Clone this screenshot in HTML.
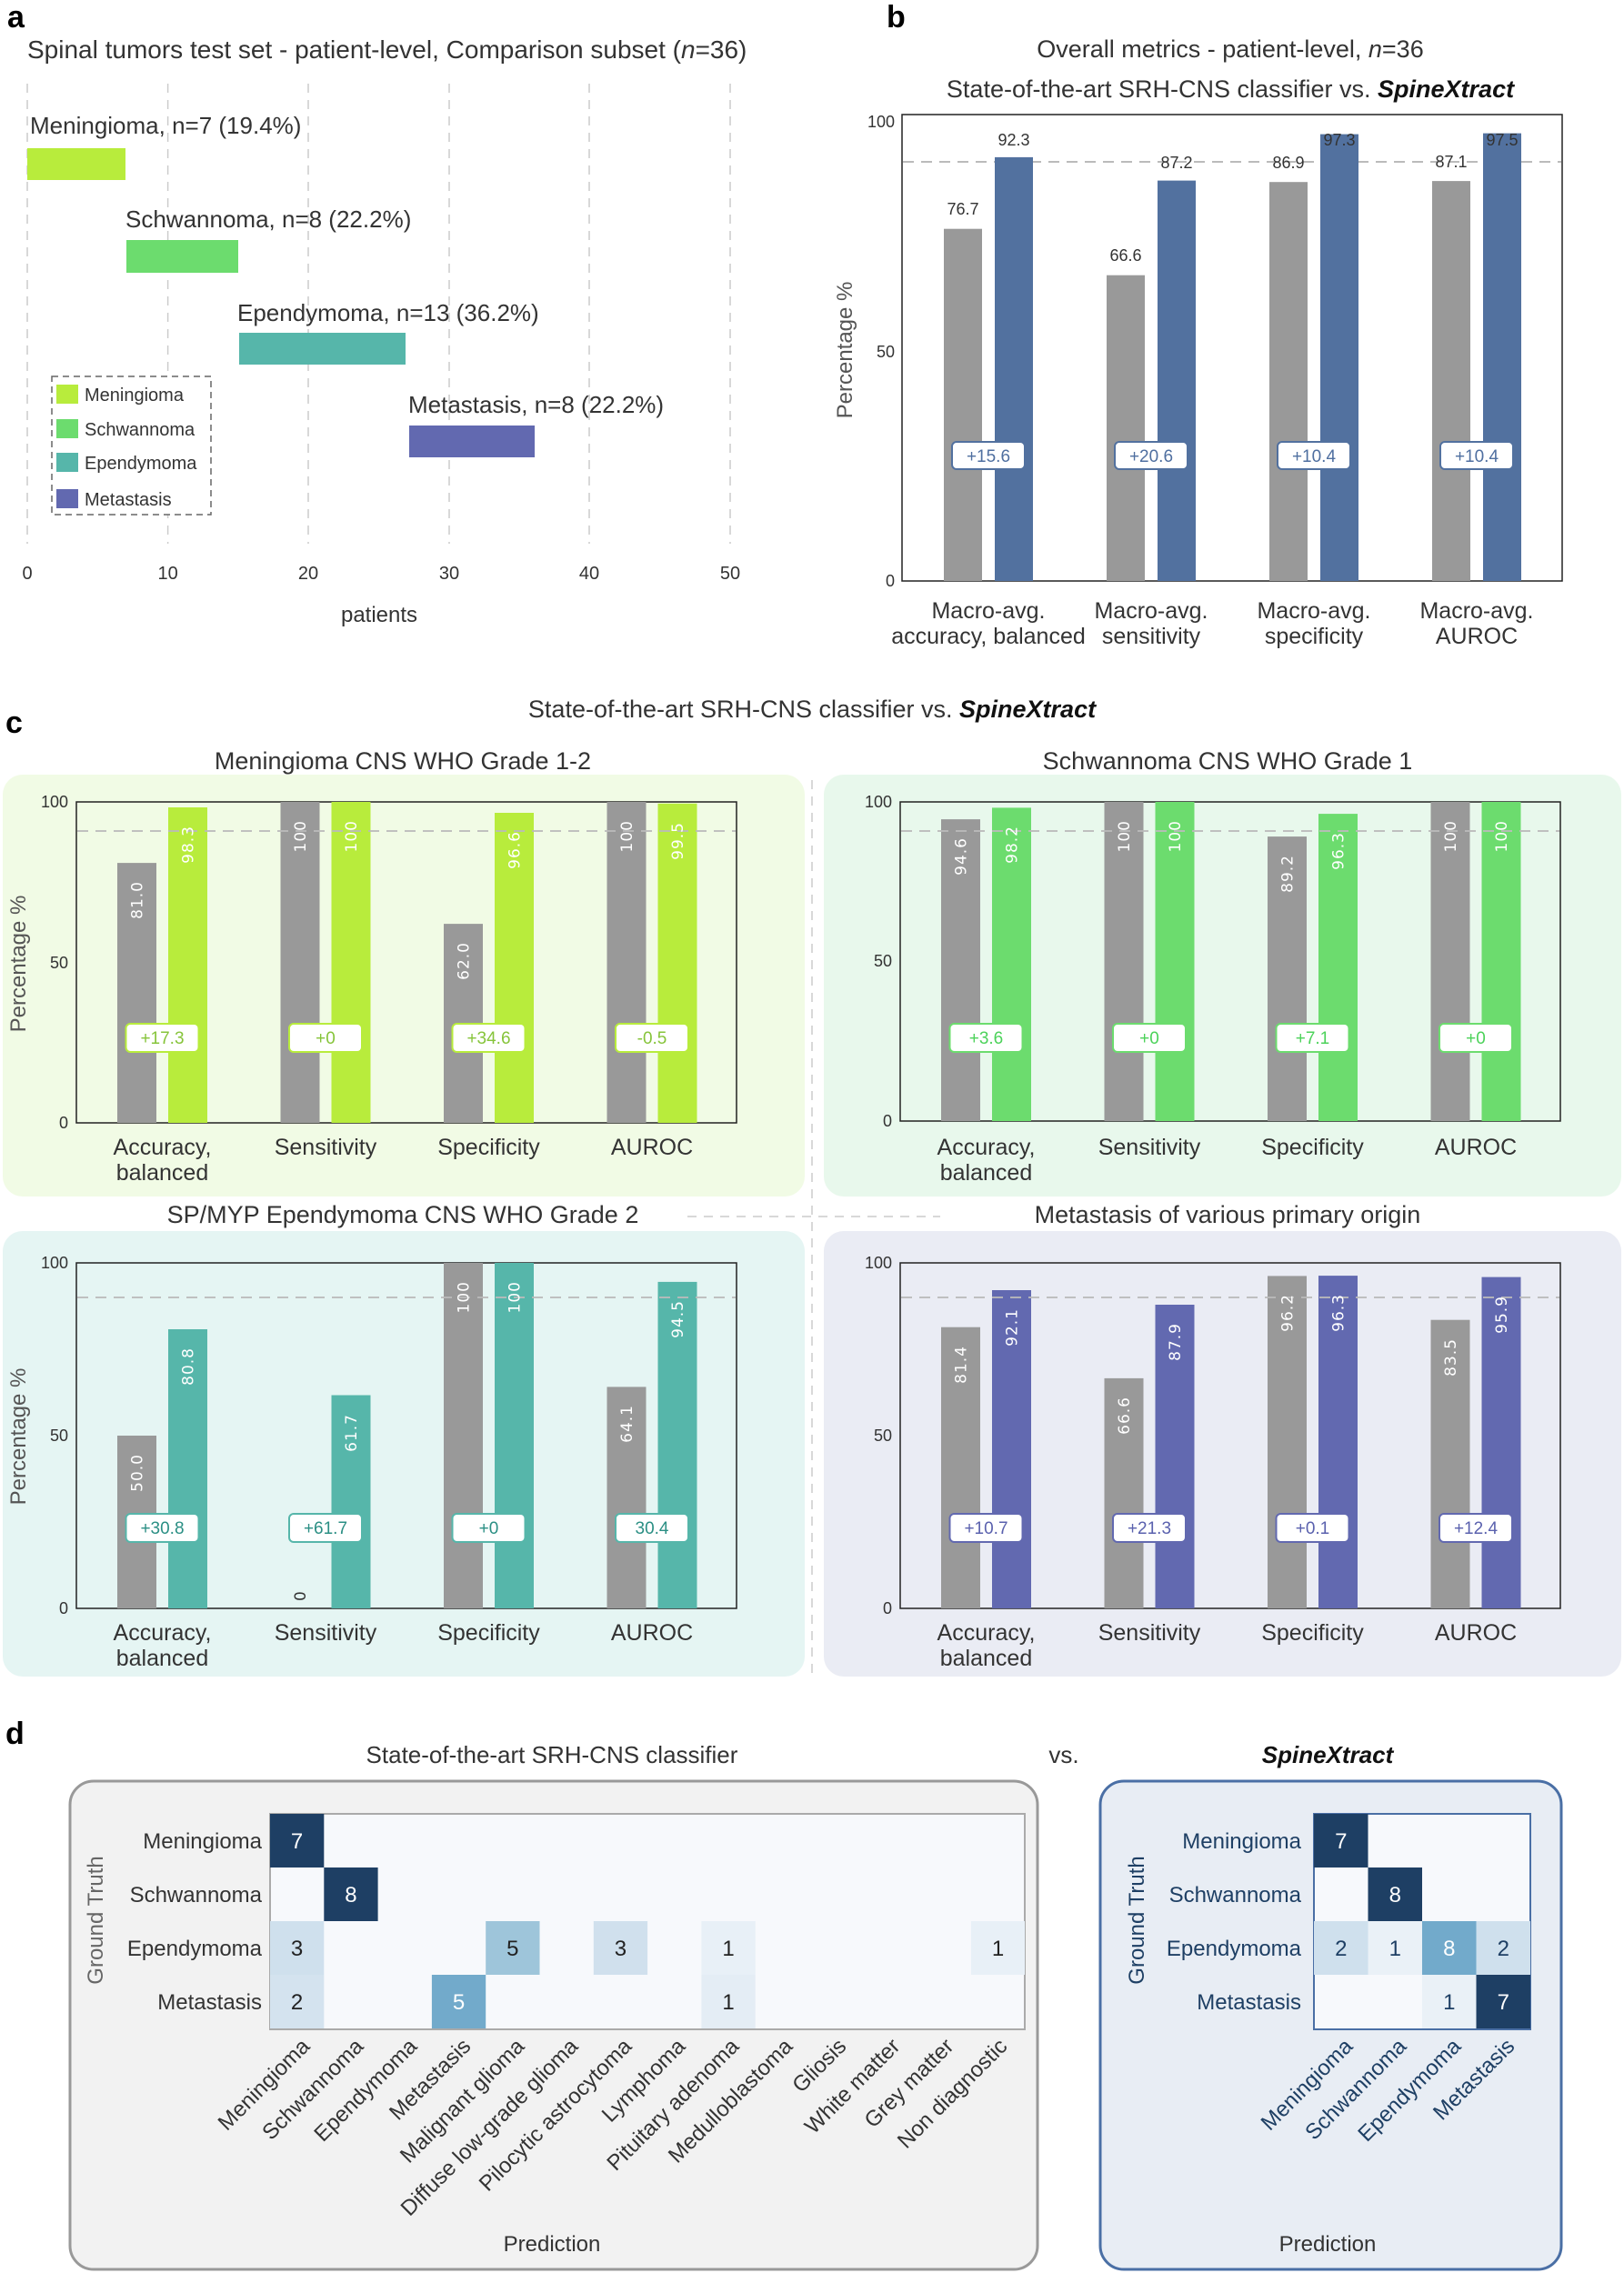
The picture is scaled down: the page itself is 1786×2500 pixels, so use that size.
<!DOCTYPE html>
<html><head><meta charset="utf-8"><style>
html,body{margin:0;padding:0;background:#fff}
svg{display:block;font-family:"Liberation Sans",sans-serif}
.t{fill:#333}
.tk{font-size:18px;fill:#333}
.vl{font-family:"DejaVu Sans",sans-serif;font-size:17px;fill:#fff;letter-spacing:1px}
.xl{font-size:25px;fill:#333;text-anchor:middle}
.bd{fill:#fff;stroke-width:2}
.bt{font-size:19px;text-anchor:middle}
.hm{font-size:24px;text-anchor:middle}
.cl{font-size:24px;fill:#333;text-anchor:end}
</style></head><body>
<svg width="1786" height="2500" viewBox="0 0 1786 2500" xmlns="http://www.w3.org/2000/svg">
<!-- Panel a -->
<text x="8" y="30" font-size="34" font-weight="bold" fill="#000">a</text>
<text x="30" y="64" font-size="28" class="t">Spinal tumors test set - patient-level, Comparison subset (<tspan font-style="italic">n</tspan>=36)</text>
<g stroke="#ccc" stroke-width="1.5" stroke-dasharray="10,8">
<line x1="30" y1="92" x2="30" y2="598"/><line x1="184.6" y1="92" x2="184.6" y2="598"/><line x1="339" y1="92" x2="339" y2="598"/><line x1="494" y1="92" x2="494" y2="598"/><line x1="648" y1="92" x2="648" y2="598"/><line x1="803" y1="92" x2="803" y2="598"/>
</g>
<rect x="30" y="163" width="108" height="35" fill="#b8ec3c"/>
<rect x="139" y="264" width="123" height="36" fill="#6cdc6e"/>
<rect x="263" y="366" width="183" height="35" fill="#56b6aa"/>
<rect x="450" y="468" width="138" height="35" fill="#6269b0"/>
<g font-size="26" class="t">
<text x="33" y="147">Meningioma, n=7 (19.4%)</text>
<text x="138" y="250">Schwannoma, n=8 (22.2%)</text>
<text x="261" y="353">Ependymoma, n=13 (36.2%)</text>
<text x="449" y="454">Metastasis, n=8 (22.2%)</text>
</g>
<rect x="57" y="414" width="175" height="152" fill="#fff" stroke="#666" stroke-width="1.5" stroke-dasharray="7,5"/>
<rect x="62" y="423" width="24" height="21" fill="#b8ec3c"/><rect x="62" y="461" width="24" height="21" fill="#6cdc6e"/><rect x="62" y="498" width="24" height="21" fill="#56b6aa"/><rect x="62" y="538" width="24" height="21" fill="#6269b0"/>
<g font-size="20" class="t"><text x="93" y="441">Meningioma</text><text x="93" y="479">Schwannoma</text><text x="93" y="516">Ependymoma</text><text x="93" y="556">Metastasis</text></g>
<g font-size="20" class="t" text-anchor="middle"><text x="30" y="637">0</text><text x="184.6" y="637">10</text><text x="339" y="637">20</text><text x="494" y="637">30</text><text x="648" y="637">40</text><text x="803" y="637">50</text></g>
<text x="417" y="684" font-size="24" class="t" text-anchor="middle">patients</text>

<!-- Panel b -->
<text x="975" y="30" font-size="34" font-weight="bold" fill="#000">b</text>
<text x="1353" y="63" font-size="27" class="t" text-anchor="middle">Overall metrics - patient-level, <tspan font-style="italic">n</tspan>=36</text>
<text x="1353" y="107" font-size="27" class="t" text-anchor="middle">State-of-the-art SRH-CNS classifier vs. <tspan font-style="italic" font-weight="bold" fill="#111">SpineXtract</tspan></text>
<rect x="992" y="126" width="726" height="513" fill="#fff" stroke="#222" stroke-width="1.5"/>
<line x1="993" y1="178" x2="1717" y2="178" stroke="#bbb" stroke-width="2" stroke-dasharray="12,8"/>
<g fill="#999"><rect x="1038" y="251.7" width="42" height="387.3"/><rect x="1217" y="302.7" width="42" height="336.3"/><rect x="1396" y="200.2" width="42" height="438.8"/><rect x="1575" y="199.1" width="42" height="439.9"/></g>
<g fill="#52719f"><rect x="1094" y="172.9" width="42" height="466.1"/><rect x="1273" y="198.6" width="42" height="440.4"/><rect x="1452" y="147.6" width="42" height="491.4"/><rect x="1631" y="146.6" width="42" height="492.4"/></g>
<g font-size="18" class="t" text-anchor="middle">
<text x="1059" y="236">76.7</text><text x="1115" y="160">92.3</text>
<text x="1238" y="287">66.6</text><text x="1294" y="185">87.2</text>
<text x="1417" y="185">86.9</text><text x="1473" y="160">97.3</text>
<text x="1596" y="184">87.1</text><text x="1652" y="160">97.5</text></g>
<g stroke="#52719f"><rect class="bd" x="1047" y="486" width="80" height="30" rx="5"/><rect class="bd" x="1226" y="486" width="80" height="30" rx="5"/><rect class="bd" x="1405" y="486" width="80" height="30" rx="5"/><rect class="bd" x="1584" y="486" width="80" height="30" rx="5"/></g>
<g class="bt" fill="#4f6fa0"><text x="1087" y="508">+15.6</text><text x="1266" y="508">+20.6</text><text x="1445" y="508">+10.4</text><text x="1624" y="508">+10.4</text></g>
<g class="tk" text-anchor="end"><text x="984" y="140">100</text><text x="984" y="393">50</text><text x="984" y="645">0</text></g>
<text transform="translate(937,385) rotate(-90)" font-size="24" fill="#555" text-anchor="middle">Percentage %</text>
<g class="xl"><text x="1087" y="680">Macro-avg.</text><text x="1087" y="708">accuracy, balanced</text><text x="1266" y="680">Macro-avg.</text><text x="1266" y="708">sensitivity</text><text x="1445" y="680">Macro-avg.</text><text x="1445" y="708">specificity</text><text x="1624" y="680">Macro-avg.</text><text x="1624" y="708">AUROC</text></g>

<!-- Panel c -->
<text x="6" y="806" font-size="34" font-weight="bold" fill="#000">c</text>
<text x="893" y="789" font-size="27" class="t" text-anchor="middle">State-of-the-art SRH-CNS classifier vs. <tspan font-style="italic" font-weight="bold" fill="#111">SpineXtract</tspan></text>
<rect x="3" y="852" width="882" height="464" rx="22" fill="#f1fbe5"/>
<rect x="906" y="852" width="877" height="464" rx="22" fill="#e8f8ec"/>
<rect x="3" y="1354" width="882" height="490" rx="22" fill="#e5f5f3"/>
<rect x="906" y="1354" width="877" height="490" rx="22" fill="#eaecf4"/>
<line x1="893" y1="858" x2="893" y2="1842" stroke="#ccc" stroke-width="1.5" stroke-dasharray="10,8"/>
<line x1="756" y1="1338" x2="1034" y2="1338" stroke="#ccc" stroke-width="1.5" stroke-dasharray="10,8"/>
<g font-size="27" class="t" text-anchor="middle">
<text x="443" y="846">Meningioma CNS WHO Grade 1-2</text>
<text x="1350" y="846">Schwannoma CNS WHO Grade 1</text>
<text x="443" y="1345">SP/MYP Ependymoma CNS WHO Grade 2</text>
<text x="1350" y="1345">Metastasis of various primary origin</text></g>
<text transform="translate(28,1060) rotate(-90)" font-size="24" fill="#555" text-anchor="middle">Percentage %</text>
<text transform="translate(28,1580) rotate(-90)" font-size="24" fill="#555" text-anchor="middle">Percentage %</text>

<!-- c top-left -->
<g transform="translate(84,882)">
<rect x="0" y="0" width="726" height="353" fill="none" stroke="#222" stroke-width="1.5"/>
<g fill="#999"><rect x="45" y="67.1" width="43" height="285.9"/><rect x="224.5" y="0" width="43" height="353"/><rect x="404" y="134.1" width="43" height="218.9"/><rect x="583.5" y="0" width="43" height="353"/></g>
<g fill="#b8ec3c"><rect x="101" y="6" width="43" height="347"/><rect x="280.5" y="0" width="43" height="353"/><rect x="460" y="12" width="43" height="341"/><rect x="639.5" y="1.8" width="43" height="351.2"/></g>
<line x1="1" y1="32" x2="725" y2="32" stroke="#bbb" stroke-width="2" stroke-dasharray="12,8" opacity=".9"/>
<g class="vl" text-anchor="end">
<text transform="translate(72.5,87) rotate(-90)">81.0</text><text transform="translate(128.5,26) rotate(-90)">98.3</text>
<text transform="translate(252,20) rotate(-90)">100</text><text transform="translate(308,20) rotate(-90)">100</text>
<text transform="translate(431.5,154) rotate(-90)">62.0</text><text transform="translate(487.5,32) rotate(-90)">96.6</text>
<text transform="translate(611,20) rotate(-90)">100</text><text transform="translate(667,22) rotate(-90)">99.5</text></g>
<g stroke="#b8ec3c"><rect class="bd" x="54.5" y="244" width="80" height="31" rx="5"/><rect class="bd" x="234" y="244" width="80" height="31" rx="5"/><rect class="bd" x="413.5" y="244" width="80" height="31" rx="5"/><rect class="bd" x="593" y="244" width="80" height="31" rx="5"/></g>
<g class="bt" fill="#86c43a"><text x="94.5" y="266">+17.3</text><text x="274" y="266">+0</text><text x="453.5" y="266">+34.6</text><text x="633" y="266">-0.5</text></g>
<g class="tk" text-anchor="end"><text x="-9" y="6">100</text><text x="-9" y="183">50</text><text x="-9" y="359">0</text></g>
<g class="xl"><text x="94.5" y="388">Accuracy,</text><text x="94.5" y="416">balanced</text><text x="274" y="388">Sensitivity</text><text x="453.5" y="388">Specificity</text><text x="633" y="388">AUROC</text></g>
</g>

<!-- c top-right -->
<g transform="translate(990,882)">
<rect x="0" y="0" width="726" height="351" fill="none" stroke="#222" stroke-width="1.5"/>
<g fill="#999"><rect x="45" y="19.1" width="43" height="331.9"/><rect x="224.5" y="0" width="43" height="351"/><rect x="404" y="38.1" width="43" height="312.9"/><rect x="583.5" y="0" width="43" height="351"/></g>
<g fill="#6cdc6e"><rect x="101" y="6.4" width="43" height="344.6"/><rect x="280.5" y="0" width="43" height="351"/><rect x="460" y="13.1" width="43" height="337.9"/><rect x="639.5" y="0" width="43" height="351"/></g>
<line x1="1" y1="32" x2="725" y2="32" stroke="#bbb" stroke-width="2" stroke-dasharray="12,8" opacity=".9"/>
<g class="vl" text-anchor="end">
<text transform="translate(72.5,39) rotate(-90)">94.6</text><text transform="translate(128.5,26) rotate(-90)">98.2</text>
<text transform="translate(252,20) rotate(-90)">100</text><text transform="translate(308,20) rotate(-90)">100</text>
<text transform="translate(431.5,58) rotate(-90)">89.2</text><text transform="translate(487.5,33) rotate(-90)">96.3</text>
<text transform="translate(611,20) rotate(-90)">100</text><text transform="translate(667,20) rotate(-90)">100</text></g>
<g stroke="#6cdc6e"><rect class="bd" x="54.5" y="244" width="80" height="31" rx="5"/><rect class="bd" x="234" y="244" width="80" height="31" rx="5"/><rect class="bd" x="413.5" y="244" width="80" height="31" rx="5"/><rect class="bd" x="593" y="244" width="80" height="31" rx="5"/></g>
<g class="bt" fill="#4cd25a"><text x="94.5" y="266">+3.6</text><text x="274" y="266">+0</text><text x="453.5" y="266">+7.1</text><text x="633" y="266">+0</text></g>
<g class="tk" text-anchor="end"><text x="-9" y="6">100</text><text x="-9" y="181">50</text><text x="-9" y="357">0</text></g>
<g class="xl"><text x="94.5" y="388">Accuracy,</text><text x="94.5" y="416">balanced</text><text x="274" y="388">Sensitivity</text><text x="453.5" y="388">Specificity</text><text x="633" y="388">AUROC</text></g>
</g>

<!-- c bottom-left -->
<g transform="translate(84,1389)">
<rect x="0" y="0" width="726" height="380" fill="none" stroke="#222" stroke-width="1.5"/>
<g fill="#999"><rect x="45" y="190" width="43" height="190"/><rect x="404" y="0" width="43" height="380"/><rect x="583.5" y="136.4" width="43" height="243.6"/></g>
<g fill="#56b6aa"><rect x="101" y="73" width="43" height="307"/><rect x="280.5" y="145.5" width="43" height="234.5"/><rect x="460" y="0" width="43" height="380"/><rect x="639.5" y="20.9" width="43" height="359.1"/></g>
<line x1="1" y1="38" x2="725" y2="38" stroke="#bbb" stroke-width="2" stroke-dasharray="12,8" opacity=".9"/>
<g class="vl" text-anchor="end">
<text transform="translate(72.5,210) rotate(-90)">50.0</text><text transform="translate(128.5,93) rotate(-90)">80.8</text>
<text transform="translate(252,372) rotate(-90)" style="fill:#333" text-anchor="start">0</text><text transform="translate(308,166) rotate(-90)">61.7</text>
<text transform="translate(431.5,20) rotate(-90)">100</text><text transform="translate(487.5,20) rotate(-90)">100</text>
<text transform="translate(611,156) rotate(-90)">64.1</text><text transform="translate(667,41) rotate(-90)">94.5</text></g>
<g stroke="#56b6aa"><rect class="bd" x="54.5" y="276" width="80" height="31" rx="5"/><rect class="bd" x="234" y="276" width="80" height="31" rx="5"/><rect class="bd" x="413.5" y="276" width="80" height="31" rx="5"/><rect class="bd" x="593" y="276" width="80" height="31" rx="5"/></g>
<g class="bt" fill="#2b8f84"><text x="94.5" y="298">+30.8</text><text x="274" y="298">+61.7</text><text x="453.5" y="298">+0</text><text x="633" y="298">30.4</text></g>
<g class="tk" text-anchor="end"><text x="-9" y="6">100</text><text x="-9" y="196">50</text><text x="-9" y="386">0</text></g>
<g class="xl"><text x="94.5" y="415">Accuracy,</text><text x="94.5" y="443">balanced</text><text x="274" y="415">Sensitivity</text><text x="453.5" y="415">Specificity</text><text x="633" y="415">AUROC</text></g>
</g>

<!-- c bottom-right -->
<g transform="translate(990,1389)">
<rect x="0" y="0" width="726" height="380" fill="none" stroke="#222" stroke-width="1.5"/>
<g fill="#999"><rect x="45" y="70.7" width="43" height="309.3"/><rect x="224.5" y="126.9" width="43" height="253.1"/><rect x="404" y="14.4" width="43" height="365.6"/><rect x="583.5" y="62.7" width="43" height="317.3"/></g>
<g fill="#6269b0"><rect x="101" y="30" width="43" height="350"/><rect x="280.5" y="46" width="43" height="334"/><rect x="460" y="14.1" width="43" height="365.9"/><rect x="639.5" y="15.6" width="43" height="364.4"/></g>
<line x1="1" y1="38" x2="725" y2="38" stroke="#bbb" stroke-width="2" stroke-dasharray="12,8" opacity=".9"/>
<g class="vl" text-anchor="end">
<text transform="translate(72.5,91) rotate(-90)">81.4</text><text transform="translate(128.5,50) rotate(-90)">92.1</text>
<text transform="translate(252,147) rotate(-90)">66.6</text><text transform="translate(308,66) rotate(-90)">87.9</text>
<text transform="translate(431.5,34) rotate(-90)">96.2</text><text transform="translate(487.5,34) rotate(-90)">96.3</text>
<text transform="translate(611,83) rotate(-90)">83.5</text><text transform="translate(667,36) rotate(-90)">95.9</text></g>
<g stroke="#6269b0"><rect class="bd" x="54.5" y="276" width="80" height="31" rx="5"/><rect class="bd" x="234" y="276" width="80" height="31" rx="5"/><rect class="bd" x="413.5" y="276" width="80" height="31" rx="5"/><rect class="bd" x="593" y="276" width="80" height="31" rx="5"/></g>
<g class="bt" fill="#5a61ae"><text x="94.5" y="298">+10.7</text><text x="274" y="298">+21.3</text><text x="453.5" y="298">+0.1</text><text x="633" y="298">+12.4</text></g>
<g class="tk" text-anchor="end"><text x="-9" y="6">100</text><text x="-9" y="196">50</text><text x="-9" y="386">0</text></g>
<g class="xl"><text x="94.5" y="415">Accuracy,</text><text x="94.5" y="443">balanced</text><text x="274" y="415">Sensitivity</text><text x="453.5" y="415">Specificity</text><text x="633" y="415">AUROC</text></g>
</g>

<!-- Panel d -->
<text x="6" y="1918" font-size="34" font-weight="bold" fill="#000">d</text>
<text x="607" y="1939" font-size="26" class="t" text-anchor="middle">State-of-the-art SRH-CNS classifier</text>
<text x="1170" y="1939" font-size="26" class="t" text-anchor="middle">vs.</text>
<text x="1460" y="1939" font-size="26" font-style="italic" font-weight="bold" fill="#111" text-anchor="middle">SpineXtract</text>
<rect x="77" y="1959" width="1064" height="537" rx="26" fill="#f2f2f2" stroke="#999" stroke-width="3"/>
<rect x="1210" y="1959" width="507" height="537" rx="26" fill="#e8edf4" stroke="#4a6fa5" stroke-width="3"/>
<!-- left heatmap -->
<rect x="297" y="1995" width="830" height="237" fill="#f7f9fc" stroke="#aaa" stroke-width="2"/>
<rect x="297" y="1995" width="59.3" height="59" fill="#1e3f64"/>
<rect x="356.3" y="2054" width="59.3" height="59" fill="#1e3f64"/>
<rect x="297" y="2113" width="59.3" height="59" fill="#cfe0ed"/>
<rect x="534.2" y="2113" width="59.3" height="59" fill="#9ec5da"/>
<rect x="652.8" y="2113" width="59.3" height="59" fill="#d0e0ed"/>
<rect x="771.4" y="2113" width="59.3" height="59" fill="#e8f0f7"/>
<rect x="1067.9" y="2113" width="59.1" height="59" fill="#e8f0f7"/>
<rect x="297" y="2172" width="59.3" height="59" fill="#d4e3ef"/>
<rect x="474.9" y="2172" width="59.3" height="59" fill="#72aacb"/>
<rect x="771.4" y="2172" width="59.3" height="59" fill="#e4edf5"/>
<g class="hm" fill="#222">
<text x="326.6" y="2033" fill="#fff">7</text><text x="385.9" y="2092" fill="#fff">8</text>
<text x="326.6" y="2151">3</text><text x="563.8" y="2151">5</text><text x="682.4" y="2151">3</text><text x="801" y="2151">1</text><text x="1097.5" y="2151">1</text>
<text x="326.6" y="2210">2</text><text x="504.5" y="2210" fill="#fff">5</text><text x="801" y="2210">1</text></g>
<g font-size="24" class="t" text-anchor="end"><text x="288" y="2033">Meningioma</text><text x="288" y="2092">Schwannoma</text><text x="288" y="2151">Ependymoma</text><text x="288" y="2210">Metastasis</text></g>
<text transform="translate(113,2112) rotate(-90)" font-size="24" fill="#666" text-anchor="middle">Ground Truth</text>
<g class="cl">
<text transform="translate(342,2252) rotate(-45)">Meningioma</text>
<text transform="translate(401,2252) rotate(-45)">Schwannoma</text>
<text transform="translate(460,2252) rotate(-45)">Ependymoma</text>
<text transform="translate(519,2252) rotate(-45)">Metastasis</text>
<text transform="translate(578,2252) rotate(-45)">Malignant glioma</text>
<text transform="translate(637,2252) rotate(-45)">Diffuse low-grade glioma</text>
<text transform="translate(696,2252) rotate(-45)">Pilocytic astrocytoma</text>
<text transform="translate(755,2252) rotate(-45)">Lymphoma</text>
<text transform="translate(814,2252) rotate(-45)">Pituitary adenoma</text>
<text transform="translate(873,2252) rotate(-45)">Medulloblastoma</text>
<text transform="translate(932,2252) rotate(-45)">Gliosis</text>
<text transform="translate(991,2252) rotate(-45)">White matter</text>
<text transform="translate(1050,2252) rotate(-45)">Grey matter</text>
<text transform="translate(1109,2252) rotate(-45)">Non diagnostic</text></g>
<text x="607" y="2476" font-size="24" class="t" text-anchor="middle">Prediction</text>
<!-- right heatmap -->
<rect x="1445" y="1995" width="238" height="237" fill="#f7f9fc" stroke="#4a6fa5" stroke-width="2"/>
<rect x="1445" y="1995" width="59.5" height="59" fill="#1e3f64"/>
<rect x="1504.5" y="2054" width="59.5" height="59" fill="#1e3f64"/>
<rect x="1445" y="2113" width="59.5" height="59" fill="#cfe0ed"/>
<rect x="1504.5" y="2113" width="59.5" height="59" fill="#eaf1f7"/>
<rect x="1564" y="2113" width="59.5" height="59" fill="#72aacb"/>
<rect x="1623.5" y="2113" width="59.5" height="59" fill="#cfe0ed"/>
<rect x="1564" y="2172" width="59.5" height="59" fill="#eaf1f7"/>
<rect x="1623.5" y="2172" width="59.5" height="59" fill="#1e3f64"/>
<g class="hm" fill="#1e3f64">
<text x="1474.8" y="2033" fill="#fff">7</text><text x="1534.3" y="2092" fill="#fff">8</text>
<text x="1474.8" y="2151">2</text><text x="1534.3" y="2151">1</text><text x="1593.8" y="2151" fill="#fff">8</text><text x="1653.3" y="2151">2</text>
<text x="1593.8" y="2210">1</text><text x="1653.3" y="2210" fill="#fff">7</text></g>
<g font-size="24" fill="#1e3f64" text-anchor="end"><text x="1431" y="2033">Meningioma</text><text x="1431" y="2092">Schwannoma</text><text x="1431" y="2151">Ependymoma</text><text x="1431" y="2210">Metastasis</text></g>
<text transform="translate(1258,2112) rotate(-90)" font-size="24" fill="#1e3f64" text-anchor="middle">Ground Truth</text>
<g class="cl" style="fill:#1e3f64">
<text transform="translate(1489,2252) rotate(-45)">Meningioma</text>
<text transform="translate(1548,2252) rotate(-45)">Schwannoma</text>
<text transform="translate(1608,2252) rotate(-45)">Ependymoma</text>
<text transform="translate(1667,2252) rotate(-45)">Metastasis</text></g>
<text x="1460" y="2476" font-size="24" class="t" text-anchor="middle">Prediction</text>
</svg>
</body></html>
